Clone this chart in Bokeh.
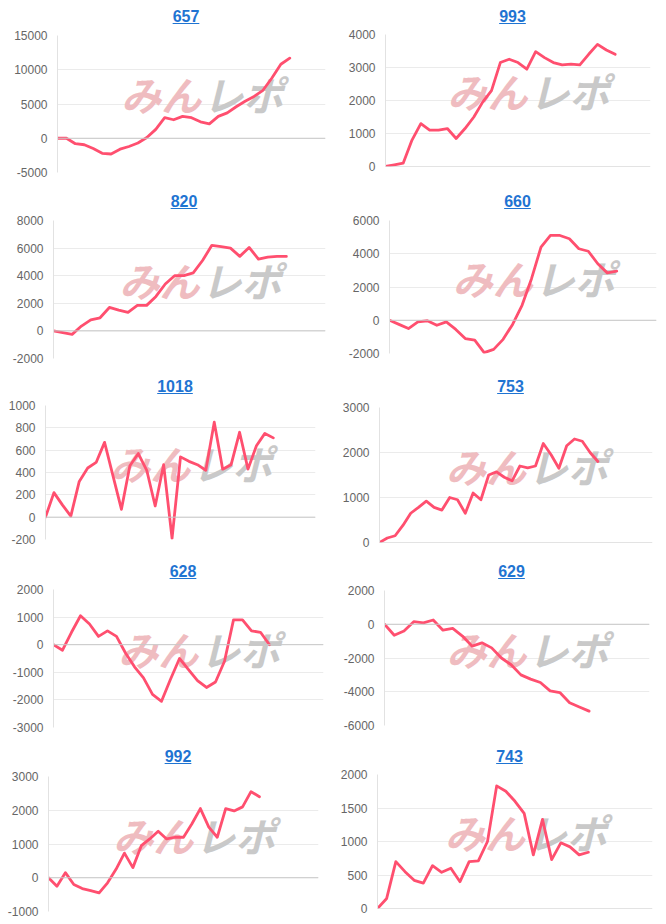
from bokeh.plotting import figure
from bokeh.layouts import row, column
from bokeh.models import Range1d, FixedTicker, Span, Div, NumeralTickFormatter
from bokeh.core.properties import value
from bokeh.embed import file_html
from bokeh.resources import INLINE

# ---------------- data ----------------
titles = ["657", "993", "820", "660", "1018", "753", "628", "629", "992", "743"]

s657 = [0, 0, -800, -950, -1500, -2200, -2300, -1600, -1200, -700, 100, 1300, 3000,
        2700, 3200, 3000, 2400, 2100, 3200, 3700, 4600, 5400, 6100, 7000, 8800, 10800, 11700]
s993 = [0, 50, 100, 800, 1300, 1100, 1100, 1150, 850, 1150, 1500, 1950, 2300, 3150,
        3250, 3150, 2950, 3480, 3300, 3150, 3080, 3100, 3080, 3400, 3700, 3530, 3400]
s820 = [0, -120, -250, 350, 800, 950, 1700, 1500, 1350, 1850, 1850, 2500, 3400, 4000,
        4000, 4200, 5100, 6200, 6100, 6000, 5400, 6050, 5200, 5350, 5400, 5400]
s660 = [0, -250, -500, -100, -30, -300, -100, -550, -1100, -1200, -1950, -1750, -1150,
        -250, 900, 2500, 4400, 5100, 5100, 4900, 4300, 4150, 3400, 2850, 2950]
s1018 = [0, 220, 110, 10, 320, 440, 490, 670, 370, 70, 460, 570, 420, 100, 470, -190,
         540, 500, 470, 420, 850, 430, 470, 760, 430, 640, 750, 710]
s753 = [0, 100, 150, 380, 650, 780, 920, 780, 720, 1000, 950, 650, 1100, 950, 1500,
        1570, 1450, 1370, 1700, 1660, 1700, 2200, 1950, 1650, 2150, 2300, 2250, 2000, 1800]
s628 = [0, -200, 450, 1050, 750, 300, 500, 300, -300, -800, -1200, -1800, -2050, -1250,
        -500, -900, -1300, -1550, -1350, -600, 900, 900, 500, 450, 0]
s629 = [0, -650, -400, 150, 80, 250, -350, -250, -700, -1300, -1100, -1400, -2000,
        -2400, -3000, -3250, -3450, -3950, -4050, -4650, -4900, -5150]
s992 = [0, -250, 150, -200, -320, -380, -450, -150, 250, 730, 300, 950, 1150, 1380,
        1150, 1200, 1200, 1600, 2050, 1500, 1200, 2050, 1980, 2100, 2550, 2400]
s743 = [0, 150, 700, 550, 420, 380, 640, 540, 600, 400, 700, 710, 1000, 1830, 1750,
        1600, 1420, 800, 1330, 730, 980, 920, 800, 840]

ticks657 = [-5000, 0, 5000, 10000, 15000]
ticks993 = [0, 1000, 2000, 3000, 4000]
ticks820 = [-2000, 0, 2000, 4000, 6000, 8000]
ticks660 = [-2000, 0, 2000, 4000, 6000]
ticks1018 = [-200, 0, 200, 400, 600, 800, 1000]
ticks753 = [0, 1000, 2000, 3000]
ticks628 = [-3000, -2000, -1000, 0, 1000, 2000]
ticks629 = [-6000, -4000, -2000, 0, 2000]
ticks992 = [-1000, 0, 1000, 2000, 3000]
ticks743 = [0, 500, 1000, 1500, 2000]

series = [s657, s993, s820, s660, s1018, s753, s628, s629, s992, s743]
ticks = [ticks657, ticks993, ticks820, ticks660, ticks1018, ticks753, ticks628,
         ticks629, ticks992, ticks743]

watermark_left = "みん"
watermark_right = "レポ"

# ---------------- layout / style ----------------
# per panel: border left, border right, border top, border bottom, x span
frames = [
    (57, 8, 9, 13, 30.0), (52, 16, 8, 19, 30.0),
    (53, 8, 9, 12, 29.2), (56, 10, 9, 17, 28.2),
    (45, 18, 9, 16, 32.0), (46, 14, 11, 13, 35.0),
    (53, 10, 8, 13, 30.0), (51, 17, 9, 15, 27.2),
    (48, 15, 10, 12, 32.0), (44, 14, 8, 15, 30.0),
]
row_fig_heights = [159, 159, 159, 159, 157]
DIV_H = 26
DIV_PAD = 8
W = 333

LINE = "#ff4f6f"
GRID = "#ebebeb"
ZERO = "#c8c8c8"
LABEL = "#666666"
TITLE = "#1f74d2"
FONT = "Liberation Sans"


def make_cell(i, r):
    bl, br, bt, bb, span = frames[i]
    tk = ticks[i]
    ys = series[i]
    xs = list(range(len(ys)))
    y0, y1 = tk[0], tk[-1]

    p = figure(width=W, height=row_fig_heights[r], output_backend="svg",
               toolbar_location=None, x_axis_location=None,
               x_range=Range1d(0, span), y_range=Range1d(y0, y1),
               min_border_left=bl, min_border_right=br,
               min_border_top=bt, min_border_bottom=bb)
    p.outline_line_color = None
    p.background_fill_color = "white"
    p.border_fill_color = "white"
    p.xgrid.visible = False
    p.ygrid.ticker = FixedTicker(ticks=tk)
    p.ygrid.grid_line_color = GRID
    p.ygrid.grid_line_width = 1

    ax = p.yaxis[0]
    ax.ticker = FixedTicker(ticks=tk)
    ax.formatter = NumeralTickFormatter(format="0")
    ax.axis_line_color = "#e2e2e2"
    ax.major_tick_line_color = None
    ax.minor_tick_line_color = None
    ax.major_tick_out = 0
    ax.major_tick_in = 0
    ax.major_label_standoff = 10
    ax.major_label_text_font = FONT
    ax.major_label_text_font_size = "12px"
    ax.major_label_text_color = LABEL

    p.add_layout(Span(location=0, dimension="width", line_color=ZERO, line_width=1))

    # watermark
    wx = span * 0.54
    wy = y1 - (y1 - y0) * 0.43
    p.text(x=[wx], y=[wy], text=[watermark_left], text_align="right",
           text_baseline="middle", text_font=value("Noto Sans CJK JP"),
           text_font_size="40px", text_font_style="bold italic",
           text_color="#efbcc0", x_offset=-1)
    p.text(x=[wx], y=[wy], text=[watermark_right], text_align="left",
           text_baseline="middle", text_font=value("Noto Sans CJK JP"),
           text_font_size="40px", text_font_style="bold italic",
           text_color="#c9c9c9", x_offset=1)

    p.line(xs, ys, line_color=LINE, line_width=2.8, line_join="round", line_cap="round")

    pl = max(bl - 10, 0)
    html = (f'<div style="box-sizing:border-box;width:{W}px;padding-left:{pl}px;'
            f'padding-right:{br}px;padding-top:{DIV_PAD}px;text-align:center;'
            f'line-height:18px;">'
            f'<a href="#" style="color:{TITLE};font-family:\'{FONT}\',Arial,sans-serif;'
            f'font-size:16px;font-weight:bold;text-decoration:underline;">{titles[i]}</a></div>')
    d = Div(text=html, width=W, height=DIV_H, margin=(0, 0, 0, 0))
    return column(d, p, spacing=0, margin=(0, 0, 0, 0))


rows = []
for r in range(5):
    rows.append(row(make_cell(2 * r, r), make_cell(2 * r + 1, r), spacing=0,
                    margin=(0, 0, 0, 0)))
layout = column(*rows, spacing=0, margin=(0, 0, 0, 0))

open("out.html", "w").write(file_html(layout, INLINE))
